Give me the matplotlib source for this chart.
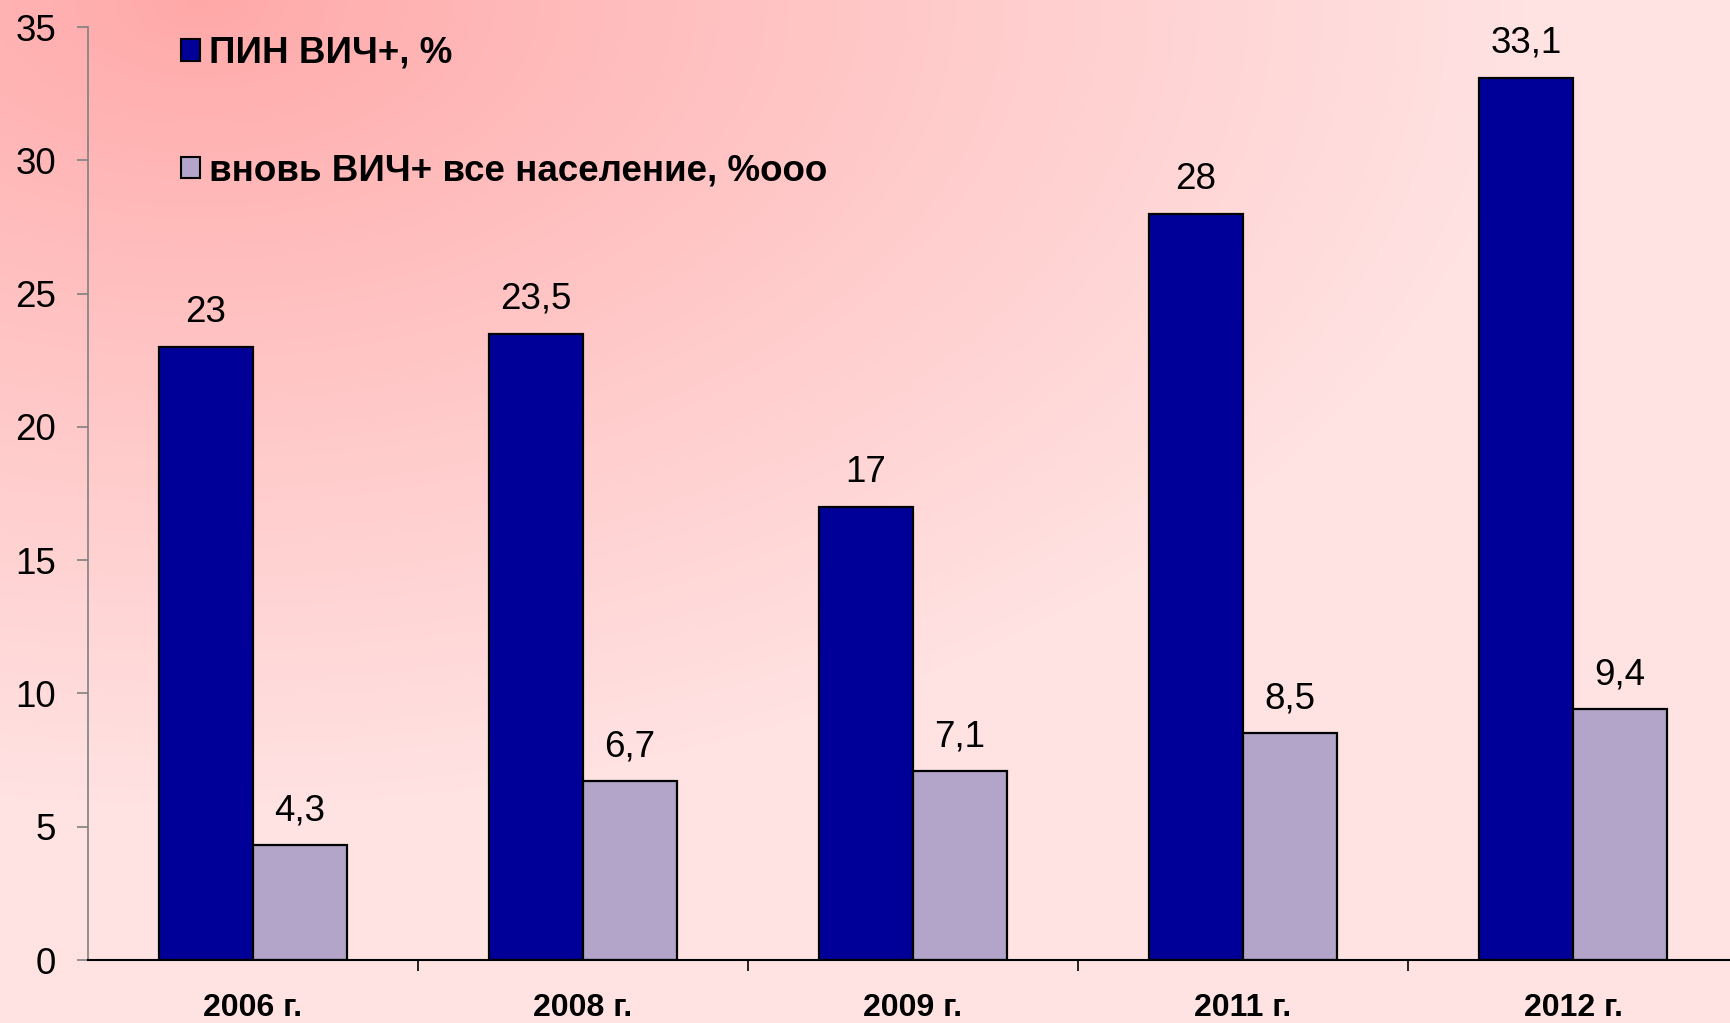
import numpy as np
import matplotlib
matplotlib.use('Agg')
import matplotlib.pyplot as plt
from matplotlib.patches import Patch

plt.rcParams['font.family'] = ['Liberation Sans', 'DejaVu Sans']

years = ['2006 г.', '2008 г.', '2009 г.', '2011 г.', '2012 г.']
pin_hiv = [23, 23.5, 17, 28, 33.1]          # ПИН ВИЧ+, %
new_hiv = [4.3, 6.7, 7.1, 8.5, 9.4]         # вновь ВИЧ+ все население, %ooo
legend_labels = ['ПИН ВИЧ+, %', 'вновь ВИЧ+ все население, %ooo']

blue = '#000099'
lilac = '#B2A5C9'

W, H = 1730, 1023
fig = plt.figure(figsize=(W / 100, H / 100), dpi=100)

# pink gradient background, darkest in the top-left corner
bg = fig.add_axes([0, 0, 1, 1], zorder=-1)
yy, xx = np.mgrid[0:H, 0:W]
t = np.sqrt(((xx - 200) / 1350.0) ** 2 + (yy / 820.0) ** 2)
t = np.clip(t, 0, 1) ** 0.9
dark = np.array([255, 168, 168]) / 255
light = np.array([255, 227, 227]) / 255
img = dark[None, None, :] * (1 - t[..., None]) + light[None, None, :] * t[..., None]
bg.imshow(img, aspect='auto', extent=[0, 1, 0, 1])
bg.axis('off')

ax = fig.add_axes([88 / W, 1 - 960 / H, 1650 / W, (960 - 27) / H])
ax.patch.set_alpha(0)

x = np.arange(len(years))
w = 0.285
b1 = ax.bar(x - w / 2, pin_hiv, w, color=blue, edgecolor='black', linewidth=1.6)
b2 = ax.bar(x + w / 2, new_hiv, w, color=lilac, edgecolor='black', linewidth=1.6)

def fmt(v):
    return (f'{v:g}').replace('.', ',')

for bars, vals in ((b1, pin_hiv), (b2, new_hiv)):
    for rect, v in zip(bars, vals):
        ax.annotate(fmt(v), (rect.get_x() + rect.get_width() / 2, v),
                    xytext=(0, 12), textcoords='offset points',
                    ha='center', va='bottom', fontsize=26.5)

ax.set_xlim(-0.5, len(years) - 0.5)
ax.set_ylim(0, 35)
ax.set_yticks(np.arange(0, 36, 5))
ax.tick_params(axis='y', direction='out', length=8, width=1.2, color='#808080',
               labelsize=26.5, pad=15)

# category boundaries get ticks, names sit in the middle
ax.set_xticks(np.arange(0.5, len(years) - 0.5, 1))
ax.set_xticklabels([])
ax.tick_params(axis='x', which='major', direction='out', length=8, width=1.2)
ax.set_xticks(x, minor=True)
ax.set_xticklabels(years, minor=True, fontsize=23, fontweight='bold')
ax.tick_params(axis='x', which='minor', length=0, pad=24)

for s in ('top', 'right'):
    ax.spines[s].set_visible(False)
ax.spines['left'].set_color('#808080')
ax.spines['left'].set_linewidth(1.2)
ax.spines['bottom'].set_linewidth(1.5)

handles = [Patch(facecolor=blue, edgecolor='black', linewidth=1.5),
           Patch(facecolor=lilac, edgecolor='black', linewidth=1.5)]
leg = fig.legend(handles, legend_labels, loc='upper left',
                 bbox_to_anchor=(181 / W, 1 - 36 / H), frameon=False,
                 prop={'size': 26.5, 'weight': 'bold'},
                 handlelength=0.52, handleheight=0.52, handletextpad=0.25,
                 labelspacing=2.25, borderpad=0, borderaxespad=0)

fig.savefig('out.png', dpi=100)
